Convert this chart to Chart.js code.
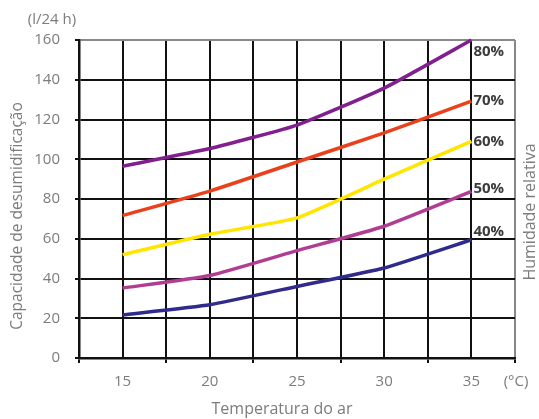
<!DOCTYPE html>
<html>
<head>
<meta charset="utf-8">
<script src="https://cdn.jsdelivr.net/npm/chart.js@4/dist/chart.umd.min.js"></script>
<style>
html,body{margin:0;padding:0;background:#fff;}
#wrap{width:539px;height:419px;position:relative;}
</style>
</head>
<body>
<div id="wrap"><canvas id="c" width="539" height="419"></canvas></div>
<script>
// ---- data ----
const temperatures = [15, 20, 25, 30, 35];
const seriesLabels = ['40%', '50%', '60%', '70%', '80%'];
const rh40 = [21.7, 26.8, 36, 45.3, 59.5];
const rh50 = [35.2, 41.5, 54, 66.3, 83.8];
const rh60 = [52, 62.3, 70.5, 90, 109];
const rh70 = [71.7, 84, 98.6, 113.3, 129.2];
const rh80 = [96.5, 105.4, 117.2, 135.8, 160];
const yTicks = [0, 20, 40, 60, 80, 100, 120, 140, 160];
const xTickLabels = [15, 20, 25, 30, 35];

const seriesValues = [rh40, rh50, rh60, rh70, rh80];
const colors = ['#2f2a8b', '#b13d92', '#ffe600', '#ea411b', '#801f8d'];
const labelDy = [-8, -3, 0, 0, 12];

const FONT = '"Open Sans", "DejaVu Sans", sans-serif';
const GRAY = '#7c7c7c';

const datasets = seriesValues.map((vals, i) => ({
  label: seriesLabels[i],
  data: temperatures.map((t, j) => ({x: t, y: vals[j]})),
  borderColor: colors[i],
  backgroundColor: colors[i],
  borderWidth: 3.5,
  pointRadius: 0,
  tension: 0.15,
  fill: false,
  clip: false
}));

const extras = {
  id: 'extras',
  afterDatasetsDraw(chart) {
    const ctx = chart.ctx;
    const xs = chart.scales.x, ys = chart.scales.y;
    ctx.save();
    // series labels
    ctx.font = 'bold 15px ' + FONT;
    ctx.fillStyle = '#3c3c3c';
    ctx.textAlign = 'left';
    ctx.textBaseline = 'middle';
    seriesValues.forEach((vals, i) => {
      const last = vals.length - 1;
      const px = xs.getPixelForValue(temperatures[last]);
      const py = ys.getPixelForValue(vals[last]);
      ctx.fillText(seriesLabels[i], px + 2, py + labelDy[i]);
    });
    // axis titles
    ctx.font = '400 15px ' + FONT;
    ctx.fillStyle = GRAY;
    ctx.textAlign = 'center';
    ctx.fillText('(l/24 h)', 52, 20);
    ctx.fillText('(°C)', 516, 382);
    ctx.font = '400 16px ' + FONT;
    ctx.fillText('Temperatura do ar', 282, 409);
    ctx.save();
    ctx.translate(18, 216);
    ctx.rotate(-Math.PI / 2);
    ctx.font = '400 15.5px ' + FONT;
    ctx.fillText('Capacidade de desumidificação', 0, 0);
    ctx.restore();
    ctx.save();
    ctx.translate(530, 212);
    ctx.rotate(-Math.PI / 2);
    ctx.font = '400 16px ' + FONT;
    ctx.fillText('Humidade relativa', 0, 0);
    ctx.restore();
    ctx.restore();
  }
};

new Chart(document.getElementById('c'), {
  type: 'line',
  data: { datasets },
  options: {
    responsive: false,
    animation: false,
    devicePixelRatio: 1,
    layout: { padding: { left: 0, right: 24, top: 40, bottom: 0 } },
    plugins: { legend: { display: false }, tooltip: { enabled: false } },
    scales: {
      x: {
        type: 'linear',
        min: 12.5,
        max: 37.5,
        afterBuildTicks(scale) {
          const t = [];
          for (let v = 12.5; v <= 37.5 + 1e-9; v += 2.5) t.push({value: v});
          scale.ticks = t;
        },
        afterFit(scale) { scale.height = 61; },
        border: { display: true, color: '#111', width: 2.5 },
        grid: {
          color: ctx => (ctx.tick && ctx.tick.value === 37.5) ? '#888' : '#111',
          lineWidth: 2,
          drawTicks: true,
          tickLength: 5,
          tickColor: ctx => (ctx.tick && ctx.tick.value % 5 !== 0) ? '#111' : 'rgba(0,0,0,0)',
          tickWidth: 2
        },
        ticks: {
          autoSkip: false,
          maxRotation: 0,
          padding: 10,
          color: GRAY,
          font: { family: FONT, size: 15, weight: '400' },
          callback: v => xTickLabels.includes(v) ? String(v) : ''
        }
      },
      y: {
        type: 'linear',
        min: 0,
        max: 160,
        afterBuildTicks(scale) {
          scale.ticks = yTicks.map(v => ({value: v}));
        },
        afterFit(scale) { scale.width = 79; },
        border: { display: true, color: '#111', width: 2.5 },
        grid: {
          color: ctx => (ctx.tick && ctx.tick.value === 160) ? '#888' : '#111',
          lineWidth: 2,
          drawTicks: true,
          tickLength: 4,
          tickColor: '#111',
          tickWidth: 2
        },
        ticks: {
          padding: 15,
          color: GRAY,
          font: { family: FONT, size: 15, weight: '400' }
        }
      }
    }
  },
  plugins: [extras]
});
</script>
</body>
</html>
